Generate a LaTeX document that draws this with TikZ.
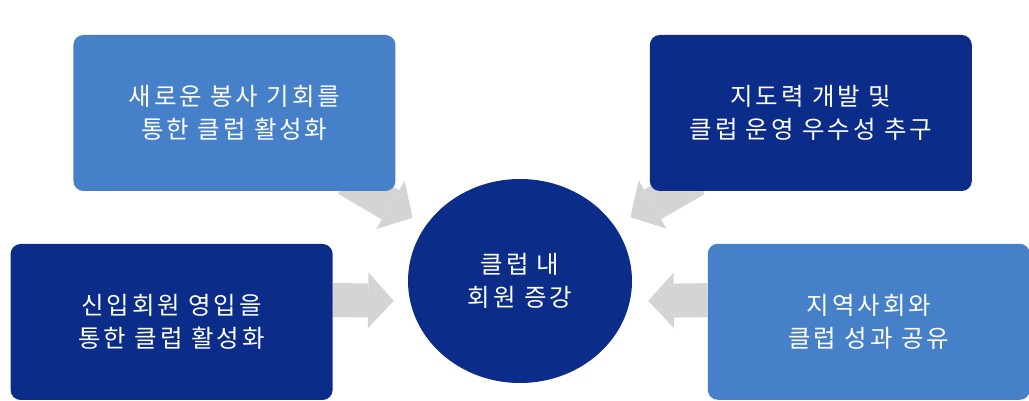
\documentclass[tikz,border=0pt]{standalone}
\usepackage{fontspec}
\newfontfamily\krfont[LetterSpace=12]{Noto Sans CJK KR}
\usepackage{tikz}
\usetikzlibrary{arrows.meta,shapes.geometric,backgrounds}
\definecolor{lightblue}{RGB}{70, 128, 200}
\definecolor{navy}{RGB}{12, 44, 138}
\definecolor{arrowgrey}{RGB}{212, 212, 212}

\begin{document}
\begin{tikzpicture}[scale=1,
  goalbox/.style={rounded corners=0.25cm,minimum width=8.05cm,minimum height=3.9cm,align=center,text=white,font=\krfont\fontsize{17.4}{23.2}\selectfont},
  pusharrow/.style={arrowgrey,line width=0.85cm,-{Triangle[width=1.4cm,length=0.64cm,line width=0pt]}}]
\useasboundingbox (0,0) rectangle (25.725,10.025);
\node[goalbox,fill=lightblue] (service) at (5.86,7.2) {새로운 봉사 기회를\\통한 클럽 활성화};
\node[goalbox,fill=navy] (leader) at (20.27,7.2) {지도력 개발 및\\클럽 운영 우수성 추구};
\node[goalbox,fill=navy] (recruit) at (4.29,1.975) {신입회원 영입을\\통한 클럽 활성화};
\node[goalbox,fill=lightblue] (share) at (21.72,1.98) {지역사회와\\클럽 성과 공유};
\node[ellipse,fill=navy,minimum width=5.6cm,minimum height=5.1cm,align=center,text=white,font=\krfont\fontsize{17.4}{23.2}\selectfont] (hub) at (13.0,3.0) {클럽 내\\회원 증강};
% grey arrows behind the boxes
\begin{scope}[on background layer]
\draw[pusharrow,shorten <=-0.6cm,shorten >=0.38cm] (service) -- (hub);
\draw[pusharrow,shorten <=-0.6cm,shorten >=0.45cm] (leader) -- (hub);
\draw[pusharrow,shorten >=0.35cm] ([yshift=0.55cm]recruit.east) -- ([yshift=-0.5cm]hub.west);
\draw[pusharrow,shorten >=0.4cm] ([yshift=0.54cm]share.west) -- ([yshift=-0.5cm]hub.east);
\end{scope}
\end{tikzpicture}
\end{document}
